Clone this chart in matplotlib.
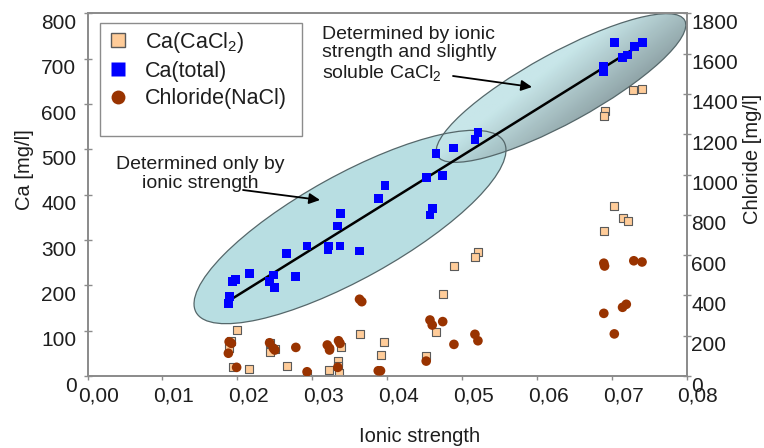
import numpy as np
import matplotlib
matplotlib.use("Agg")
import matplotlib.pyplot as plt
from matplotlib.patches import Ellipse, Rectangle
from matplotlib.transforms import Affine2D, ScaledTranslation
from matplotlib.lines import Line2D

plt.rcParams['font.family'] = ['Liberation Sans', 'DejaVu Sans']
plt.rcParams['mathtext.fontset'] = 'custom'
plt.rcParams['mathtext.rm'] = 'Liberation Sans'
plt.rcParams['mathtext.it'] = 'Liberation Sans:italic'
plt.rcParams['mathtext.bf'] = 'Liberation Sans:bold'

# ---------------- data ----------------
ca_total_I = [0.0397, 0.0388, 0.0338, 0.0334, 0.0293, 0.0266, 0.0322, 0.0321, 0.0337,
              0.0363, 0.0216, 0.0198, 0.0194, 0.0248, 0.0243, 0.0250, 0.0278, 0.0190,
              0.0188, 0.0703, 0.0741, 0.0730, 0.0721, 0.0714, 0.0689, 0.0689, 0.0521,
              0.0517, 0.0488, 0.0465, 0.0474, 0.0452, 0.0460, 0.0457]
ca_total = [421, 391, 358, 331, 287, 271, 287, 278, 287,
            276, 227, 213, 208, 223, 208, 195, 219, 175,
            160, 736, 736, 727, 708, 702, 684, 672, 537,
            522, 503, 491, 442, 438, 370, 355]

ca_cacl2_I = [0.0728, 0.0740, 0.0690, 0.0689, 0.0703, 0.0714, 0.0721, 0.0689, 0.0521,
              0.0517, 0.0489, 0.0474, 0.0465, 0.0396, 0.0391, 0.0452, 0.0199, 0.0191,
              0.0189, 0.0244, 0.0250, 0.0244, 0.0194, 0.0215, 0.0266, 0.0293, 0.0322,
              0.0334, 0.0334, 0.0335, 0.0338, 0.0363]
ca_cacl2 = [630, 633, 585, 574, 376, 349, 342, 320, 273,
            262, 243, 180, 97, 76, 46, 44, 102, 78,
            61, 73, 59, 54, 19, 15, 21, 4, 13,
            34, 21, 7, 65, 93]

chloride_I = [0.0689, 0.0690, 0.0729, 0.0740, 0.0689, 0.0719, 0.0714, 0.0703, 0.0457,
              0.0460, 0.0474, 0.0489, 0.0517, 0.0521, 0.0452, 0.0391, 0.0363, 0.0366,
              0.0189, 0.0192, 0.0188, 0.0243, 0.0248, 0.0250, 0.0278, 0.0320, 0.0323,
              0.0323, 0.0335, 0.0337, 0.0199, 0.0293, 0.0334, 0.0388]
chloride = [560, 546, 572, 566, 311, 356, 341, 209, 278,
            253, 270, 157, 207, 175, 74, 26, 381, 369,
            170, 162, 113, 165, 138, 129, 142, 154, 138,
            129, 175, 162, 43, 21, 43, 26]

x_ticks = [0.00, 0.01, 0.02, 0.03, 0.04, 0.05, 0.06, 0.07, 0.08]
x_tick_labels = ['0,00', '0,01', '0,02', '0,03', '0,04', '0,05', '0,06', '0,07', '0,08']
ca_ticks = [0, 100, 200, 300, 400, 500, 600, 700, 800]
cl_ticks = [0, 200, 400, 600, 800, 1000, 1200, 1400, 1600, 1800]

legend_labels = ['Ca(CaCl$_2$)', 'Ca(total)', 'Chloride(NaCl)']

# ---------------- figure ----------------
W, H = 764, 448
fig = plt.figure(figsize=(W / 100, H / 100), dpi=100)
fig.patch.set_facecolor('white')
ax = fig.add_axes([87.5 / W, (H - 376) / H, 599.5 / W, 362.6 / H])
ax2 = ax.twinx()
# reference-pixel transform (x right, y down) for annotation shapes
px = Affine2D().scale(1 / W, -1 / H).translate(0, 1) + fig.transFigure

ax.set_xlim(0, 0.08)
ax.set_ylim(0, 800)
ax2.set_ylim(0, 1800)
ax.set_autoscale_on(False)

TXT = '#1e1e1e'
GRID = '#8c8c8c'

# ---- ellipses ----
e1c, e1a, e1b, e1ang = (350, 227), 176, 52, -29
e2c, e2a, e2b, e2ang = (561, 88), 141, 35, -28.7
ell1 = Ellipse(e1c, 2 * e1a, 2 * e1b, angle=e1ang, transform=px,
               facecolor='#b8dee2', edgecolor='none', zorder=1)
ax.add_patch(ell1)

# gradient fill for second ellipse
gx0, gx1, gy0, gy1 = 410, 715, -5, 185
gxs = np.linspace(gx0, gx1, 300)
gys = np.linspace(gy0, gy1, 200)
GX, GY = np.meshgrid(gxs, gys)
th = np.deg2rad(-e2ang)
ux, uy = np.cos(th), -np.sin(th)
vx, vy = np.sin(th), np.cos(th)
q = (GX - e2c[0]) * ux + (GY - e2c[1]) * uy
p = (GX - e2c[0]) * vx + (GY - e2c[1]) * vy
t = np.clip(0.30 + 0.45 * p / e2b + 0.30 * q / e2a, 0, 1)
light = np.array([0xc4, 0xe5, 0xe8]) / 255
dark = np.array([0x7c, 0x90, 0x94]) / 255
img = light[None, None, :] * (1 - t[..., None]) + dark[None, None, :] * t[..., None]
ell2_clip = Ellipse(e2c, 2 * e2a, 2 * e2b, angle=e2ang, transform=px)
im = ax.imshow(img, extent=(gx0, gx1, gy1, gy0), origin='upper', transform=px,
               aspect='auto', zorder=1.1, alpha=0.93, interpolation='bilinear')
im.set_clip_path(ell2_clip)

for c, a, b, ang in [(e1c, e1a, e1b, e1ang), (e2c, e2a, e2b, e2ang)]:
    ax.add_patch(Ellipse(c, 2 * a, 2 * b, angle=ang, transform=px, fill=False,
                         edgecolor='#55676a', lw=0.9, zorder=1.2))

ax.set_xlim(0, 0.08)
ax.set_ylim(0, 800)

# ---- regression line & data ----
coef = np.polyfit(ca_total_I, ca_total, 1)
xs = np.array([min(ca_total_I), max(ca_total_I)])
ax.plot(xs, np.polyval(coef, xs), color='black', lw=1.8, zorder=2)

ax.scatter(ca_cacl2_I, ca_cacl2, marker='s', s=30, facecolor='#ffcc99',
           edgecolor='#5a5a5a', linewidths=0.8, zorder=3)
ax.scatter(ca_total_I, ca_total, marker='s', s=40, facecolor='#0000ff',
           edgecolor='none', zorder=3)
ax2.scatter(chloride_I, chloride, marker='o', s=48, facecolor='#993300',
            edgecolor='none', zorder=3)

# ---- axes styling ----
for a_ in (ax, ax2):
    for s in a_.spines.values():
        s.set_color(GRID)
        s.set_linewidth(1.3)

ax.set_xticks(x_ticks)
ax.set_xticklabels(x_tick_labels)
ax.set_yticks(ca_ticks)
ax2.set_yticks(cl_ticks)
ax.tick_params(axis='x', direction='out', length=3, width=1, color=GRID,
               labelsize=15, labelcolor=TXT, pad=4.5)
ax.tick_params(axis='y', direction='inout', length=6, width=1, color=GRID,
               labelsize=15, labelcolor=TXT, pad=5)
ax2.tick_params(axis='y', direction='inout', length=6, width=1, color=GRID,
                labelsize=15, labelcolor=TXT, pad=0)

dx = ScaledTranslation(11 / 100, 0, fig.dpi_scale_trans)
dy = ScaledTranslation(0, -8 / 100, fig.dpi_scale_trans)
for lbl in ax.get_xticklabels():
    lbl.set_transform(lbl.get_transform() + dx)
for lbl in ax.get_yticklabels():
    lbl.set_transform(lbl.get_transform() + dy)
for lbl in ax2.get_yticklabels():
    lbl.set_transform(lbl.get_transform() + dy)

# axis titles
fig.text(25, 170, 'Ca [mg/l]', transform=px, rotation=90, ha='center', va='center',
         fontsize=14.5, color=TXT)
fig.text(752, 159, 'Chloride [mg/l]', transform=px, rotation=90, ha='center',
         va='center', fontsize=14.5, color=TXT)
fig.text(420, 437, 'Ionic strength', transform=px, ha='center', va='center',
         fontsize=14.5, color=TXT)

# ---- legend ----
handles = [
    Line2D([], [], marker='s', ls='none', markersize=9.5, markerfacecolor='#ffcc99',
           markeredgecolor='#5a5a5a', markeredgewidth=1.0),
    Line2D([], [], marker='s', ls='none', markersize=9.5, markerfacecolor='#0000ff',
           markeredgecolor='none'),
    Line2D([], [], marker='o', ls='none', markersize=10, markerfacecolor='#993300',
           markeredgecolor='none'),
]
frame = Rectangle((100, 23), 202, 113, transform=px, facecolor='white',
                  edgecolor=GRID, lw=1.0, zorder=4, clip_on=False)
ax2.add_patch(frame)
leg = ax2.legend(handles, legend_labels, loc='upper left',
                 bbox_to_anchor=(107, 30), bbox_transform=px, frameon=False,
                 fontsize=15.5, handlelength=1.0, handletextpad=0.75,
                 labelspacing=0.28, borderpad=0, borderaxespad=0)
for txt in leg.get_texts():
    txt.set_color(TXT)
leg.set_zorder(5)

# ---- annotations ----
fig.text(200, 174, 'Determined only by\nionic strength', transform=px, ha='center',
         va='center', fontsize=14, color=TXT, linespacing=1.1, zorder=6)
fig.text(322, 54.5, 'Determined by ionic\nstrength and slightly\nsoluble CaCl$_2$',
         transform=px, ha='left', va='center', fontsize=14, color=TXT,
         linespacing=1.1, zorder=6)
arrow_kw = dict(arrowstyle='-|>', color='black', lw=1.3, mutation_scale=16,
                shrinkA=0, shrinkB=0)
ax2.annotate('', xy=(320, 200), xytext=(243, 190), xycoords=px, textcoords=px,
             arrowprops=arrow_kw, annotation_clip=False)
ax2.annotate('', xy=(532, 87), xytext=(453, 76), xycoords=px, textcoords=px,
             arrowprops=arrow_kw, annotation_clip=False)

fig.savefig('out.png', dpi=100, facecolor='white')
